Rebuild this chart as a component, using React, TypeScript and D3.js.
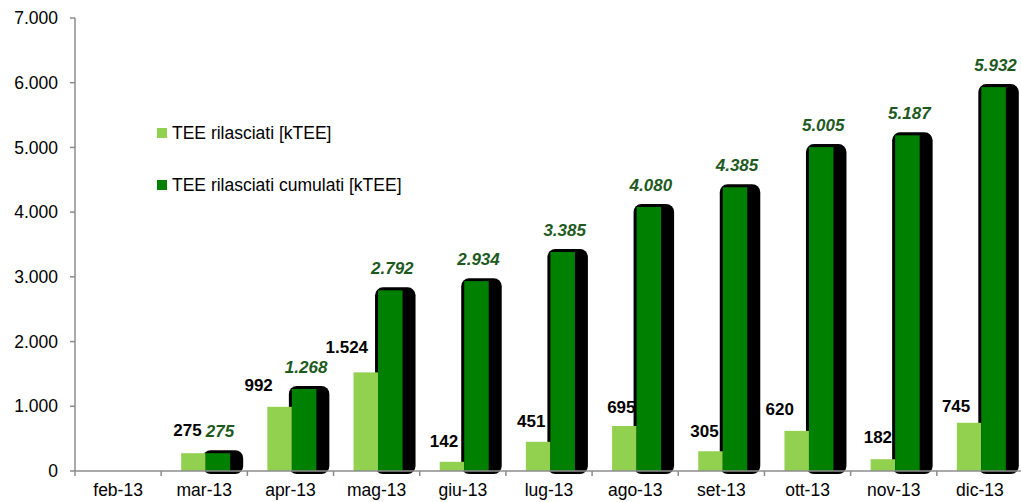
import React from "react";
import * as d3 from "d3";

const categories = ["feb-13", "mar-13", "apr-13", "mag-13", "giu-13", "lug-13", "ago-13", "set-13", "ott-13", "nov-13", "dic-13"];
const released = [0, 275, 992, 1524, 142, 451, 695, 305, 620, 182, 745];
const cumulative = [0, 275, 1268, 2792, 2934, 3385, 4080, 4385, 5005, 5187, 5932];
const yTicks = [0, 1000, 2000, 3000, 4000, 5000, 6000, 7000];
const seriesNames = ["TEE rilasciati [kTEE]", "TEE rilasciati cumulati [kTEE]"];

// layout tweaks: nudges of the light-series labels (as placed in the original)
const labelNudgeX = [0, -6, -21, -19, -8, -7, -3, -6, -17, -5, -13];
const labelNudgeY = [0, -23, -22, -25, -21, -21, -19, -20, -22, -22, -17];

const W = 1021;
const H = 502;
const LIGHT = "#92d050";
const DARK = "#008000";
const LABEL_DARK = "#1e5a1e";
const FONT = "'Liberation Sans', Arial, sans-serif";

const fmt = (v: number) => {
  const s = Math.round(v).toString();
  return s.replace(/\B(?=(\d{3})+(?!\d))/g, ".");
};

export default function App() {
  const x = d3.scaleBand<string>().domain(categories).range([75, 1023]);
  const y = d3.scaleLinear().domain([0, 7000]).range([471, 18]);
  const sub = d3.scaleBand<string>().domain(["light", "dark"]).range([20, 69]);
  const bw = sub.bandwidth();
  const y0 = y(0);

  return (
    <svg width={W} height={H} style={{ position: "absolute", left: 0, top: 0, fontFamily: FONT }}>
      <rect width={W} height={H} fill="#fff" />
      {/* shadows */}
      {categories.map((c, i) => {
        if (cumulative[i] <= 0) return null;
        const dx = (x(c) as number) + (sub("dark") as number);
        const top = y(cumulative[i]);
        return (
          <rect key={"s" + c} x={dx - 3} y={top - 3} width={bw + 16} height={y0 + 3 - (top - 3)} rx={8} ry={8} fill="#000" />
        );
      })}
      {/* bars */}
      {categories.map((c, i) => {
        const bx = x(c) as number;
        return (
          <g key={"b" + c}>
            {released[i] > 0 && (
              <rect x={bx + (sub("light") as number)} y={y(released[i])} width={bw} height={y0 - y(released[i])} fill={LIGHT} />
            )}
            {cumulative[i] > 0 && (
              <rect x={bx + (sub("dark") as number)} y={y(cumulative[i])} width={bw} height={y0 - y(cumulative[i])} fill={DARK} />
            )}
          </g>
        );
      })}
      {/* axes */}
      <line x1={75} x2={75} y1={y(7000)} y2={y0} stroke="#8c8c8c" strokeWidth={1.5} />
      <line x1={75} x2={1023} y1={y0} y2={y0} stroke="#8c8c8c" strokeWidth={1.5} />
      {yTicks.map((t) => (
        <g key={"yt" + t}>
          <line x1={70} x2={75} y1={y(t)} y2={y(t)} stroke="#8c8c8c" strokeWidth={1.5} />
          <text x={58} y={y(t)} dy="0.35em" textAnchor="end" fontSize={17.5} fill="#000">
            {fmt(t)}
          </text>
        </g>
      ))}
      {categories.map((c) => (
        <line key={"xt" + c} x1={x(c) as number} x2={x(c) as number} y1={y0} y2={y0 + 5} stroke="#8c8c8c" strokeWidth={1.5} />
      ))}
      {categories.map((c) => (
        <text key={"xl" + c} x={(x(c) as number) + x.bandwidth() / 2} y={496} textAnchor="middle" fontSize={17.5} fill="#000">
          {c}
        </text>
      ))}
      {/* value labels */}
      {categories.map((c, i) => {
        const bx = x(c) as number;
        return (
          <g key={"l" + c}>
            {released[i] > 0 && (
              <text
                x={bx + (sub("light") as number) + bw / 2 + labelNudgeX[i]}
                y={y(released[i]) + labelNudgeY[i]}
                dy="0.35em"
                textAnchor="middle"
                fontSize={17}
                fontWeight="bold"
                fill="#000"
              >
                {fmt(released[i])}
              </text>
            )}
            {cumulative[i] > 0 && (
              <text
                x={bx + (sub("dark") as number) + bw / 2 + 2}
                y={y(cumulative[i]) - 22}
                dy="0.35em"
                textAnchor="middle"
                fontSize={17}
                fontWeight="bold"
                fontStyle="italic"
                fill={LABEL_DARK}
              >
                {fmt(cumulative[i])}
              </text>
            )}
          </g>
        );
      })}
      {/* legend */}
      {seriesNames.map((n, i) => (
        <g key={"lg" + i} transform={`translate(157, ${133 + i * 52})`}>
          <rect x={0} y={-5} width={10} height={10} fill={i === 0 ? LIGHT : DARK} />
          <text x={15} y={0} dy="0.35em" fontSize={17.5} fill="#000">
            {n}
          </text>
        </g>
      ))}
    </svg>
  );
}
